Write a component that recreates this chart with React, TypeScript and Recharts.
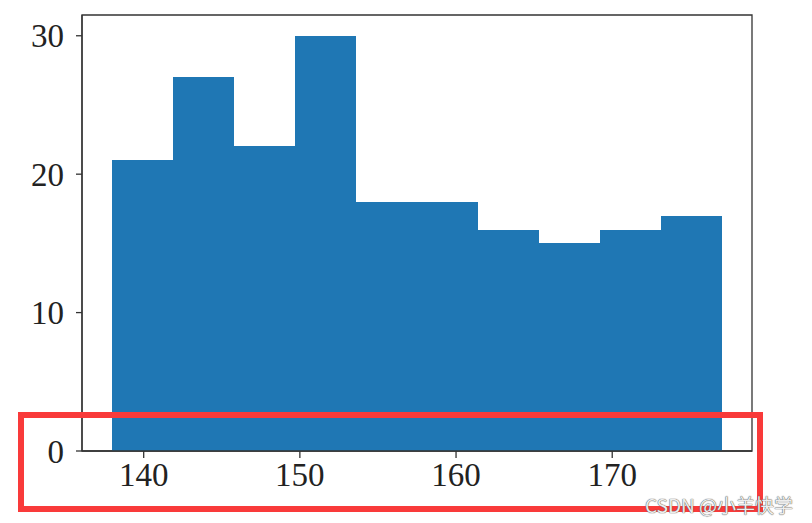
import React from "react"
import {
  ComposedChart,
  Bar,
  XAxis,
  YAxis,
  ReferenceArea,
} from "recharts"

// histogram bins (centre of each bin) and counts
const binCenters = [139.95, 143.85, 147.75, 151.65, 155.55, 159.45, 163.35, 167.25, 171.15, 175.05]
const counts = [21, 27, 22, 30, 18, 18, 16, 15, 16, 17]
const xTicks = [140, 150, 160, 170]
const yTicks = [0, 10, 20, 30]
const xDomain = [136.05, 178.95]
const yDomain = [0, 31.5]

const data = binCenters.map((x, i) => ({ x, count: counts[i] }))

const tickFont = {
  fontFamily: "'Liberation Serif', 'DejaVu Serif', serif",
  fontSize: 33,
  fill: "#222",
}

export default function App() {
  return (
    <div
      style={{
        position: "absolute",
        left: 0,
        top: 0,
        width: 812,
        height: 523,
        background: "#fff",
        overflow: "hidden",
      }}
    >
      <ComposedChart
        width={812}
        height={523}
        data={data}
        margin={{ top: 15, right: 60, bottom: 0, left: 0 }}
        barCategoryGap={0}
        barGap={0}
      >
        <XAxis
          dataKey="x"
          type="number"
          domain={xDomain}
          ticks={xTicks}
          height={72}
          tickSize={7}
          tickMargin={5}
          tick={tickFont}
          axisLine={{ stroke: "#333", strokeWidth: 1.3 }}
          tickLine={{ stroke: "#333", strokeWidth: 1.3 }}
          allowDataOverflow
        />
        <YAxis
          type="number"
          domain={yDomain}
          ticks={yTicks}
          width={82}
          tickSize={6}
          tickMargin={12}
          tick={tickFont}
          axisLine={{ stroke: "#333", strokeWidth: 1.3 }}
          tickLine={{ stroke: "#333", strokeWidth: 1.3 }}
          allowDataOverflow
        />
        <Bar
          dataKey="count"
          fill="#1f77b4"
          shapeRendering="crispEdges"
          isAnimationActive={false}
        />
        <ReferenceArea
          x1={xDomain[0]}
          x2={xDomain[1]}
          y1={yDomain[0]}
          y2={yDomain[1]}
          fill="none"
          fillOpacity={0}
          stroke="#333"
          strokeWidth={1.3}
          ifOverflow="visible"
        />
      </ComposedChart>
      {/* red highlight box around the x axis */}
      <div
        style={{
          position: "absolute",
          left: 18,
          top: 412,
          width: 745,
          height: 100,
          boxSizing: "border-box",
          border: "6px solid #f93a3a",
        }}
      />
      <div
        style={{
          position: "absolute",
          left: 645,
          top: 491,
          fontFamily: "'Noto Sans CJK SC', 'Noto Sans', sans-serif",
          fontSize: 19,
          color: "#eeeeee",
          textShadow: "0 0 1px #555, 0 0 1px #555",
          whiteSpace: "nowrap",
        }}
      >
        CSDN @小羊快学
      </div>
    </div>
  )
}
